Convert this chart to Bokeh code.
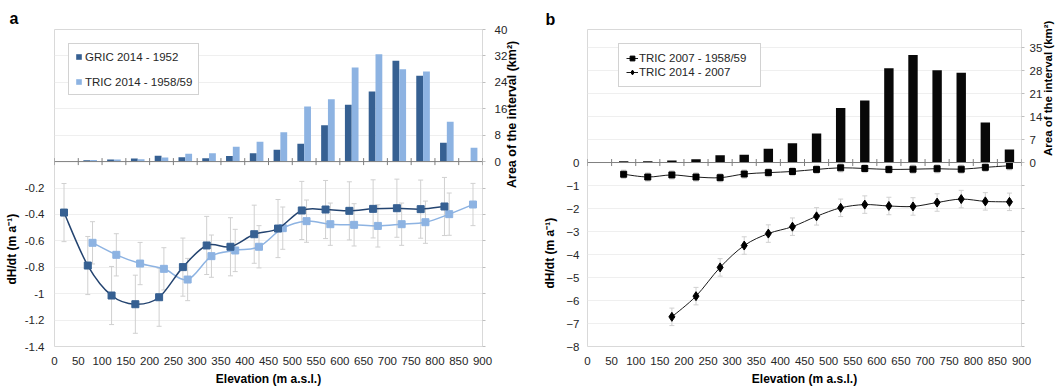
import numpy as np
from bokeh.plotting import figure
from bokeh.layouts import row
from bokeh.models import (Range1d, LinearAxis, FixedTicker, Whisker, ColumnDataSource,
                          Legend, LegendItem, Span, TeeHead, Title)
from bokeh.transform import dodge
from bokeh.embed import file_html
from bokeh.resources import INLINE

# ---------------- data ----------------
bin_centers = [25, 75, 125, 175, 225, 275, 325, 375, 425, 475, 525, 575, 625, 675, 725, 775, 825, 875]
x_ticks = [0, 50, 100, 150, 200, 250, 300, 350, 400, 450, 500, 550, 600, 650, 700, 750, 800, 850, 900]

area_gric_a = [0, 0.4, 0.6, 0.9, 1.8, 1.3, 1.0, 1.7, 2.5, 3.6, 5.4, 11.0, 17.2, 21.2, 30.5, 26.0, 5.7, 0]
area_tric_a = [0, 0.5, 0.6, 0.7, 1.2, 2.4, 2.5, 4.5, 6.0, 8.9, 16.7, 18.9, 28.5, 32.5, 28.0, 27.3, 12.1, 4.2]
area_tric_b = [0, 0.4, 0.4, 0.6, 1.0, 2.2, 2.4, 4.2, 5.9, 8.8, 16.6, 18.9, 28.7, 32.7, 28.1, 27.3, 12.2, 4.0]

gric_elev = [20, 70, 120, 170, 220, 270, 320, 370, 420, 470, 520, 570, 620, 670, 720, 770, 820]
gric_dhdt = [-0.386, -0.787, -1.014, -1.080, -1.027, -0.799, -0.635, -0.645, -0.550, -0.507,
             -0.370, -0.363, -0.373, -0.358, -0.353, -0.360, -0.340]
gric_err = [0.22, 0.22, 0.22, 0.22, 0.22, 0.22, 0.22, 0.22, 0.22, 0.22, 0.22, 0.22, 0.22, 0.22, 0.22, 0.22, 0.22]

tric_elev = [80, 130, 180, 230, 280, 330, 380, 430, 480, 530, 580, 630, 680, 730, 780, 830, 880]
tric_dhdt = [-0.615, -0.706, -0.772, -0.812, -0.893, -0.716, -0.673, -0.645, -0.504, -0.451,
             -0.474, -0.479, -0.487, -0.474, -0.459, -0.398, -0.325]
tric_err = [0.16, 0.16, 0.16, 0.16, 0.16, 0.16, 0.16, 0.16, 0.16, 0.16, 0.16, 0.16, 0.16, 0.16, 0.16, 0.16, 0.16]

b_old_elev = [75, 125, 175, 225, 275, 325, 375, 425, 475, 525, 575, 625, 675, 725, 775, 825, 875]
b_old_dhdt = [-0.51, -0.63, -0.54, -0.63, -0.66, -0.50, -0.44, -0.39, -0.30, -0.23, -0.26, -0.30,
              -0.29, -0.27, -0.29, -0.21, -0.14]
b_old_err = [0.18, 0.18, 0.18, 0.18, 0.18, 0.18, 0.18, 0.18, 0.18, 0.18, 0.18, 0.18, 0.18, 0.18, 0.18, 0.18, 0.18]

b_new_elev = [175, 225, 275, 325, 375, 425, 475, 525, 575, 625, 675, 725, 775, 825, 875]
b_new_dhdt = [-6.71, -5.81, -4.56, -3.61, -3.09, -2.79, -2.34, -1.97, -1.83, -1.89, -1.91, -1.74,
              -1.59, -1.69, -1.71]
b_new_err = [0.38, 0.38, 0.38, 0.38, 0.38, 0.38, 0.38, 0.38, 0.38, 0.38, 0.38, 0.38, 0.38, 0.38, 0.38]

a_left_ticks = [-1.4, -1.2, -1.0, -0.8, -0.6, -0.4, -0.2]
a_left_labels = ["-1.4", "-1.2", "-1", "-0.8", "-0.6", "-0.4", "-0.2"]
a_right_ticks = [0, 8, 16, 24, 32, 40]
b_left_ticks = [-8, -7, -6, -5, -4, -3, -2, -1, 0]
b_right_ticks = [0, 7, 14, 21, 28, 35]

legend_a = ["GRIC 2014 - 1952", "TRIC 2014 - 1958/59"]
legend_b = ["TRIC 2007 - 1958/59", "TRIC 2014 - 2007"]
x_title = "Elevation (m a.s.l.)"
y_title = "dH/dt (m a\u207b\u00b9)"
area_title = "Area of the interval (km\u00b2)"

# ---------------- style ----------------
FONT = "Liberation Sans"
TICK_SIZE = "11.5px"
TITLE_SIZE = "12px"
TICK_COLOR = "#262626"
BORDER = "#d9d9d9"
GRID = "#efefef"
ERR = "#d0d0d0"
DARK = "#366092"
DARK_LINE = "#244470"
LIGHT = "#8db3e2"
PAD = "\u00a0" * 10   # leading padding that lifts the centred right-hand title of panel b


def smooth(xs, ys):
    """Cubic Bezier control points (Excel-like smoothed line)."""
    x = np.asarray(xs, float)
    y = np.asarray(ys, float)
    n = len(x)
    xp = np.concatenate([[x[0]], x, [x[-1]]])
    yp = np.concatenate([[y[0]], y, [y[-1]]])
    return dict(
        x0=xp[1:n], y0=yp[1:n], x1=xp[2:n + 1], y1=yp[2:n + 1],
        cx0=xp[1:n] + (xp[2:n + 1] - xp[0:n - 1]) / 6,
        cy0=yp[1:n] + (yp[2:n + 1] - yp[0:n - 1]) / 6,
        cx1=xp[2:n + 1] - (xp[3:n + 2] - xp[1:n]) / 6,
        cy1=yp[2:n + 1] - (yp[3:n + 2] - yp[1:n]) / 6,
    )


def style_axis(ax):
    ax.axis_line_color = None
    ax.major_tick_line_color = None
    ax.minor_tick_line_color = None
    ax.major_tick_out = 0
    ax.major_tick_in = 0
    ax.minor_tick_out = 0
    ax.minor_tick_in = 0
    ax.major_label_text_font = FONT
    ax.major_label_text_font_size = TICK_SIZE
    ax.major_label_text_color = TICK_COLOR
    ax.axis_label_text_font = FONT
    ax.axis_label_text_font_size = TITLE_SIZE
    ax.axis_label_text_font_style = "bold"
    ax.axis_label_text_color = "#000000"


def add_whisker(p, xs, ys, errs):
    y = np.asarray(ys, float)
    e = np.asarray(errs, float)
    src = ColumnDataSource(dict(x=xs, lower=y - e, upper=y + e))
    w = Whisker(base="x", lower="lower", upper="upper", source=src,
                line_color=ERR, line_width=1,
                upper_head=TeeHead(size=5, line_color=ERR, line_width=1),
                lower_head=TeeHead(size=5, line_color=ERR, line_width=1))
    p.add_layout(w)


def side_title(text, align, offset, standoff, size=TITLE_SIZE, valign="middle"):
    return Title(text=text, align=align, offset=offset, standoff=standoff,
                 vertical_align=valign, text_font=FONT, text_font_size=size,
                 text_font_style="bold", text_color="#000000")


def label_axis(text, bounds, standoff, size):
    la = LinearAxis(ticker=FixedTicker(ticks=[]), axis_label=text, bounds=bounds)
    style_axis(la)
    la.axis_label_text_font_size = size
    la.axis_label_standoff = standoff
    if "axis_label_orientation" in la.properties():
        la.axis_label_orientation = np.pi / 2
    return la


def bottom_axis(p):
    bx = p.below[0]
    style_axis(bx)
    bx.ticker = FixedTicker(ticks=x_ticks)
    bx.major_label_standoff = 10
    bx.axis_label = x_title
    bx.axis_label_standoff = 4


# ================= panel a =================
fa = figure(width=535, height=388, x_range=Range1d(0, 900), y_range=Range1d(-1.4, 1.0),
            output_backend="svg", toolbar_location=None,
            min_border_left=54, min_border_right=53, min_border_top=29, min_border_bottom=42)
fa.outline_line_color = BORDER
fa.xgrid.visible = False
fa.ygrid.ticker = FixedTicker(ticks=list(np.round(np.arange(-1.2, 0.81, 0.2), 1)))
fa.ygrid.grid_line_color = GRID
fa.extra_y_ranges = {"area": Range1d(-56, 40)}
fa.title = side_title("a", "left", -45, 5, size="16px", valign="bottom")

bottom_axis(fa)

ay = fa.left[0]
style_axis(ay)
ay.ticker = FixedTicker(ticks=a_left_ticks)
ay.major_label_overrides = dict(zip(a_left_ticks, a_left_labels))
ay.major_label_standoff = 10

a_marks = list(range(-56, 41, 8))
ra = LinearAxis(y_range_name="area", ticker=FixedTicker(ticks=a_marks),
                major_label_overrides={t: "" for t in a_marks if t < 0})
style_axis(ra)
ra.major_tick_line_color = "#bfbfbf"
ra.major_tick_out = 3
ra.major_label_standoff = 9
fa.add_layout(ra, "right")

fa.add_layout(side_title(y_title, "left", 62, 4), "left")
fa.add_layout(label_axis(area_title, (0.076, 1.0), 1, "12.5px"), "right")

src_a = ColumnDataSource(dict(c=bin_centers, g=area_gric_a, t=area_tric_a))
bar_g = fa.vbar(x=dodge("c", -7.15, range=fa.x_range), top="g", width=14.3, source=src_a,
                y_range_name="area", fill_color=DARK, line_color=None)
bar_t = fa.vbar(x=dodge("c", 7.15, range=fa.x_range), top="t", width=14.3, source=src_a,
                y_range_name="area", fill_color=LIGHT, line_color=None)

fa.add_layout(Span(location=0, dimension="width", line_color="#7f7f7f", line_width=1))
fa.scatter(x=x_ticks, y=0, marker="dash", angle=np.pi / 2, size=7,
           line_color="#7f7f7f", line_width=1)

add_whisker(fa, gric_elev, gric_dhdt, gric_err)
add_whisker(fa, tric_elev, tric_dhdt, tric_err)

fa.bezier(source=ColumnDataSource(smooth(tric_elev, tric_dhdt)), x0="x0", y0="y0", x1="x1", y1="y1",
          cx0="cx0", cy0="cy0", cx1="cx1", cy1="cy1", line_color=LIGHT, line_width=1.5)
fa.scatter(tric_elev, tric_dhdt, marker="square", size=7, fill_color=LIGHT, line_color=LIGHT)
fa.bezier(source=ColumnDataSource(smooth(gric_elev, gric_dhdt)), x0="x0", y0="y0", x1="x1", y1="y1",
          cx0="cx0", cy0="cy0", cx1="cx1", cy1="cy1", line_color=DARK_LINE, line_width=1.5)
fa.scatter(gric_elev, gric_dhdt, marker="square", size=7, fill_color=DARK, line_color=DARK)

leg_a = Legend(items=[LegendItem(label=legend_a[0], renderers=[bar_g]),
                      LegendItem(label=legend_a[1], renderers=[bar_t])],
               location="top_left", margin=14, padding=6, spacing=12,
               glyph_width=7, glyph_height=7, label_height=13, label_width=106,
               label_standoff=3, label_text_font=FONT, label_text_font_size=TICK_SIZE,
               label_text_color=TICK_COLOR, border_line_color="#a6a6a6",
               background_fill_alpha=1.0)
fa.add_layout(leg_a)

# ================= panel b =================
fb = figure(width=529, height=388, x_range=Range1d(0, 900), y_range=Range1d(-8, 5.784),
            output_backend="svg", toolbar_location=None,
            min_border_left=46, min_border_right=43, min_border_top=25, min_border_bottom=41)
fb.outline_line_color = BORDER
fb.xgrid.visible = False
fb.ygrid.ticker = FixedTicker(ticks=list(range(-7, 6)))
fb.ygrid.grid_line_color = GRID
fb.extra_y_ranges = {"area": Range1d(-56, 40.49)}
fb.title = side_title("b", "left", -42, 4, size="16px", valign="bottom")

bottom_axis(fb)

by = fb.left[0]
style_axis(by)
by.ticker = FixedTicker(ticks=b_left_ticks)
by.major_label_standoff = 8

b_marks = list(range(-56, 36, 7))
rb = LinearAxis(y_range_name="area", ticker=FixedTicker(ticks=b_marks),
                major_label_overrides={t: "" for t in b_marks if t < 0})
style_axis(rb)
rb.major_tick_line_color = "#bfbfbf"
rb.major_tick_out = 3
rb.major_label_standoff = 5
fb.add_layout(rb, "right")

fb.add_layout(side_title(y_title, "left", 58, 12), "left")
fb.add_layout(label_axis(PAD + area_title, (0.64, 5.78), 2, "11.5px"), "right")

fb.vbar(x=bin_centers, top=area_tric_b, width=19.5, y_range_name="area",
        fill_color="#080808", line_color=None)

fb.add_layout(Span(location=0, dimension="width", line_color="#7f7f7f", line_width=1))
fb.scatter(x=x_ticks, y=0, marker="dash", angle=np.pi / 2, size=7,
           line_color="#7f7f7f", line_width=1)

add_whisker(fb, b_old_elev, b_old_dhdt, b_old_err)
add_whisker(fb, b_new_elev, b_new_dhdt, b_new_err)

l_old = fb.bezier(source=ColumnDataSource(smooth(b_old_elev, b_old_dhdt)), x0="x0", y0="y0", x1="x1",
                  y1="y1", cx0="cx0", cy0="cy0", cx1="cx1", cy1="cy1", line_color="#1a1a1a", line_width=1)
m_old = fb.scatter(b_old_elev, b_old_dhdt, marker="square", size=6, fill_color="#000000", line_color="#000000")
l_new = fb.bezier(source=ColumnDataSource(smooth(b_new_elev, b_new_dhdt)), x0="x0", y0="y0", x1="x1",
                  y1="y1", cx0="cx0", cy0="cy0", cx1="cx1", cy1="cy1", line_color="#1a1a1a", line_width=1)
m_new = fb.scatter(b_new_elev, b_new_dhdt, marker="diamond", size=9, fill_color="#000000", line_color="#000000")

leg_b = Legend(items=[LegendItem(label=legend_b[0], renderers=[l_old, m_old]),
                      LegendItem(label=legend_b[1], renderers=[l_new, m_new])],
               location=(31, 259), padding=7, spacing=0,
               glyph_width=12, glyph_height=14, label_height=14, label_width=114,
               label_standoff=1, label_text_font=FONT, label_text_font_size=TICK_SIZE,
               label_text_color=TICK_COLOR, border_line_color="#a6a6a6",
               background_fill_alpha=1.0)
fb.add_layout(leg_b)

layout = row(fa, fb)
open("out.html", "w").write(file_html(layout, INLINE))
